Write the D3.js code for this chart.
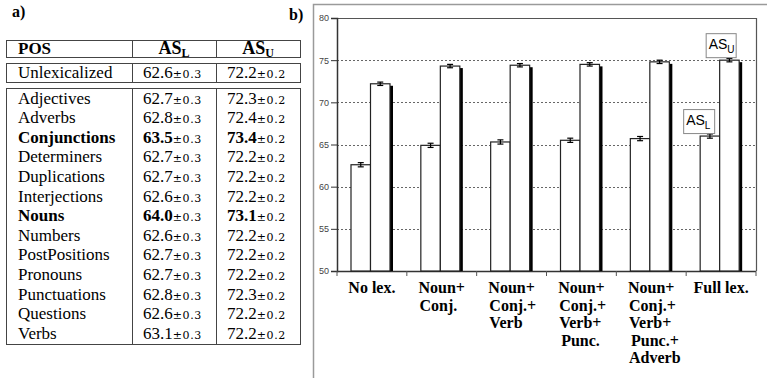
<!DOCTYPE html>
<html>
<head>
<meta charset="utf-8">
<script src="https://cdn.jsdelivr.net/npm/d3@7"></script>
<style>
  body { margin: 0; background: #fff; }
  svg { display: block; }
</style>
</head>
<body>
<svg id="fig" width="767" height="378"></svg>
<script>
// ---- table a) ----
const posNames = ["Adjectives", "Adverbs", "Conjunctions", "Determiners", "Duplications", "Interjections",
                  "Nouns", "Numbers", "PostPositions", "Pronouns", "Punctuations", "Questions", "Verbs"];
const posL = [62.7, 62.8, 63.5, 62.7, 62.7, 62.6, 64.0, 62.6, 62.7, 62.7, 62.8, 62.6, 63.1];
const posU = [72.3, 72.4, 73.4, 72.2, 72.2, 72.2, 73.1, 72.2, 72.2, 72.2, 72.3, 72.2, 72.2];
const boldRows = ["Conjunctions", "Nouns"];
const unlexL = 62.6, unlexU = 72.2;
const tableErrL = 0.3, tableErrU = 0.2;

// ---- chart b) ----
const catLabels = [
  ["No lex."],
  ["Noun+", "Conj."],
  ["Noun+", "Conj.+", "Verb"],
  ["Noun+", "Conj.+", "Verb+", "Punc."],
  ["Noun+", "Conj.+", "Verb+", "Punc.+", "Adverb"],
  ["Full lex."]
];
const asL = [62.6, 64.9, 65.3, 65.5, 65.7, 66.0];
const asU = [72.2, 74.3, 74.4, 74.5, 74.8, 75.0];
const errL = [0.25, 0.25, 0.25, 0.25, 0.25, 0.25];
const errU = [0.2, 0.2, 0.2, 0.2, 0.2, 0.2];
const yTicks = [50, 55, 60, 65, 70, 75, 80];

const svg = d3.select("#fig");
const fmt = d3.format(".1f");
const serif = "'Liberation Serif', 'Times New Roman', serif";
const sans = "'Liberation Sans', Arial, sans-serif";

// ================= table =================
const tbl = svg.append("g");
const colX = [6, 132, 216, 300];
const border = "#444";

tbl.append("text").attr("x", 12).attr("y", 17)
   .style("font", `bold 16px ${serif}`).text("a)");

function box(y0, y1) {
  tbl.append("rect").attr("x", colX[0] + 0.5).attr("y", y0 + 0.5)
     .attr("width", colX[3] - colX[0]).attr("height", y1 - y0)
     .attr("fill", "none").attr("stroke", border).attr("stroke-width", 1);
  for (let c of [colX[1], colX[2]]) {
    tbl.append("line").attr("x1", c + 0.5).attr("x2", c + 0.5)
       .attr("y1", y0).attr("y2", y1).attr("stroke", border);
  }
}
box(40, 57);
box(63, 82);
box(88, 344);

// header
tbl.append("text").attr("x", 18).attr("y", 54)
   .style("font", `bold 17px ${serif}`).text("POS");
[["L", (colX[1] + colX[2]) / 2], ["U", (colX[2] + colX[3]) / 2]].forEach(([s, cx]) => {
  const t = tbl.append("text").attr("x", cx).attr("y", 54).attr("text-anchor", "middle")
     .style("font", `bold 18px ${serif}`);
  t.append("tspan").text("AS");
  t.append("tspan").attr("dy", 3).style("font-size", "12px").text(s);
});

function valueCell(x, y, v, err, bold) {
  const t = tbl.append("text").attr("x", x).attr("y", y)
     .style("font", `${bold ? "bold " : ""}17px ${serif}`);
  t.append("tspan").text(fmt(v));
  t.append("tspan").style("font", `11px 'DejaVu Serif', serif`)
   .style("letter-spacing", "0.6px").text("\u00b1" + err);
}

// unlexicalized
tbl.append("text").attr("x", 18).attr("y", 78).style("font", `17px ${serif}`).text("Unlexicalized");
valueCell(143, 78, unlexL, tableErrL, false);
valueCell(227, 78, unlexU, tableErrU, false);

// body rows
const rowY = i => 103.5 + i * 19.6;
posNames.forEach((name, i) => {
  const b = boldRows.includes(name);
  tbl.append("text").attr("x", 18).attr("y", rowY(i))
     .style("font", `${b ? "bold " : ""}17px ${serif}`).text(name);
  valueCell(143, rowY(i), posL[i], tableErrL, b);
  valueCell(227, rowY(i), posU[i], tableErrU, b);
});

// ================= chart =================
const ch = svg.append("g");

ch.append("text").attr("x", 289).attr("y", 20)
  .style("font", `bold 16px ${serif}`).text("b)");

// panel frame (top + left only)
ch.append("path").attr("d", "M313.5,378 V4.5 H767")
  .attr("fill", "none").attr("stroke", "#9a9a9a").attr("stroke-width", 1.5);

const plot = { left: 337, right: 756, top: 18, bottom: 271 };
const x = d3.scaleBand().domain(d3.range(catLabels.length))
  .range([plot.left, plot.right]).paddingInner(0).paddingOuter(0);
const sub = d3.scaleBand().domain(["L", "U"]).range([14, 53]);
const y = d3.scaleLinear().domain([50, 80]).range([plot.bottom, plot.top]);

// grid
ch.append("g").selectAll("line").data(yTicks.filter(t => t > 50 && t < 80)).join("line")
  .attr("x1", plot.left).attr("x2", plot.right)
  .attr("y1", d => Math.round(y(d)) + 0.5).attr("y2", d => Math.round(y(d)) + 0.5)
  .attr("stroke", "#666").attr("stroke-dasharray", "2,2");

// plot frame top/right
ch.append("path")
  .attr("d", `M${plot.left},${plot.top + 0.5} H${plot.right + 0.5} V${plot.bottom}`)
  .attr("fill", "none").attr("stroke", "#555").attr("stroke-width", 1.2);

// y axis
const yAxis = ch.append("g").attr("transform", `translate(${plot.left},0)`)
  .call(d3.axisLeft(y).tickValues(yTicks).tickSize(6).tickPadding(2));
yAxis.select(".domain").attr("stroke", "#333").attr("stroke-width", 1.5);
yAxis.selectAll(".tick line").attr("stroke", "#333");
yAxis.selectAll("text").style("font", `9px ${sans}`).attr("fill", "#444");

// x axis (ticks on category boundaries)
const bounds = x.domain().map(d => x(d)).concat([plot.right]);
ch.append("line").attr("x1", plot.left).attr("x2", plot.right)
  .attr("y1", plot.bottom + 0.5).attr("y2", plot.bottom + 0.5)
  .attr("stroke", "#333").attr("stroke-width", 1.5);
ch.append("g").selectAll("line").data(bounds).join("line")
  .attr("x1", d => d).attr("x2", d => d)
  .attr("y1", plot.bottom).attr("y2", plot.bottom + 5)
  .attr("stroke", "#555");

// bars
const groups = ch.append("g").selectAll("g").data(catLabels).join("g")
  .attr("transform", (d, i) => `translate(${x(i)},0)`);

groups.append("rect")
  .attr("x", sub("L")).attr("width", sub.bandwidth())
  .attr("y", (d, i) => y(asL[i])).attr("height", (d, i) => plot.bottom - y(asL[i]))
  .attr("fill", "#fff").attr("stroke", "#222").attr("stroke-width", 1.2);

// shadow of AS_U bar
groups.append("rect")
  .attr("x", sub("U") + sub.bandwidth() - 0.5).attr("width", 3.5)
  .attr("y", (d, i) => y(asU[i]) + 2).attr("height", (d, i) => plot.bottom - y(asU[i]) - 2)
  .attr("fill", "#000");
groups.append("rect")
  .attr("x", sub("U")).attr("width", sub.bandwidth())
  .attr("y", (d, i) => y(asU[i])).attr("height", (d, i) => plot.bottom - y(asU[i]))
  .attr("fill", "#fff").attr("stroke", "#222").attr("stroke-width", 1.2);

// error bars
function errBar(key, vals, errs) {
  const cx = sub(key) + sub.bandwidth() / 2;
  const g = groups.append("g").attr("stroke", "#000").attr("stroke-width", 1.2);
  g.append("line").attr("x1", cx).attr("x2", cx)
    .attr("y1", (d, i) => y(vals[i] - errs[i])).attr("y2", (d, i) => y(vals[i] + errs[i]));
  [-1, 1].forEach(s => {
    g.append("line").attr("x1", cx - 3).attr("x2", cx + 3)
      .attr("y1", (d, i) => y(vals[i] + s * errs[i])).attr("y2", (d, i) => y(vals[i] + s * errs[i]));
  });
}
errBar("L", asL, errL);
errBar("U", asU, errU);

// category labels
groups.each(function (lines, i) {
  const g = d3.select(this);
  const cx = x.bandwidth() / 2;
  const first = g.append("text").attr("x", cx).attr("y", 293).attr("text-anchor", "middle")
    .style("font", `bold 16px ${serif}`).text(lines[0]);
  const w = first.node().getComputedTextLength();
  const left = cx - w / 2;
  lines.slice(1).forEach((ln, k) => {
    g.append("text").attr("x", left + (ln.startsWith("Punc") ? 3 : 1)).attr("y", 293 + (k + 1) * 17.5)
      .style("font", `bold 16px ${serif}`).text(ln);
  });
});

// series callout boxes near the last group
const last = catLabels.length - 1;
function callout(s, val, dx, bw) {
  const bx = x(last) + sub(s) + dx;
  const by = y(val) - 3 - 24;
  const g = ch.append("g");
  g.append("rect").attr("x", bx + 0.5).attr("y", by + 0.5).attr("width", bw).attr("height", 24)
    .attr("fill", "#fff").attr("stroke", "#888");
  const t = g.append("text").attr("x", bx + 3).attr("y", by + 16).style("font", `14px ${sans}`);
  t.append("tspan").text("AS");
  t.append("tspan").attr("dy", 4).style("font-size", "10px").text(s);
}
callout("L", asL[last], -17, 31);
callout("U", asU[last], -14, 30);
</script>
</body>
</html>
